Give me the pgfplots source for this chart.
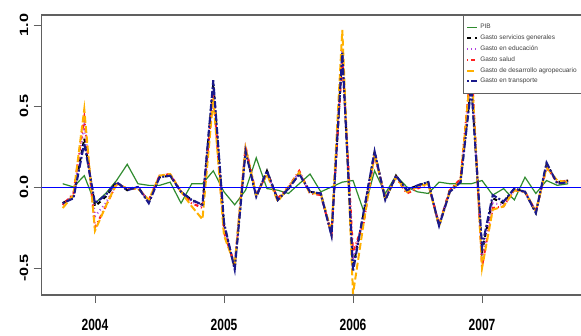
\documentclass[border=0pt]{standalone}
\usepackage{pgfplots}
\pgfplotsset{compat=1.18}
\usepackage{pgfplotstable}
\usepackage{fontspec}
\setmainfont{Liberation Sans}
\usepackage{graphicx}

\definecolor{pibgreen}{HTML}{2E8B2E}
\definecolor{trnavy}{HTML}{1A1A8C}
\definecolor{edupurple}{HTML}{B040E0}
\definecolor{salred}{HTML}{FF2020}
\definecolor{agroorange}{HTML}{FFB000}
\definecolor{axgray}{HTML}{606060}

\pgfplotstableread{
t        pib    serv   edu    salud  agro   trans
2003.750  0.02  -0.10  -0.11  -0.11  -0.13  -0.10
2003.833  0.00  -0.06  -0.05  -0.04  -0.05  -0.07
2003.917  0.07   0.30   0.38   0.43   0.48   0.27
2004.000 -0.10  -0.12  -0.18  -0.25  -0.27  -0.10
2004.083 -0.04  -0.06  -0.10  -0.12  -0.12  -0.05
2004.167  0.04   0.03   0.02   0.02   0.02   0.03
2004.250  0.14  -0.02  -0.01  -0.01  -0.01  -0.02
2004.333  0.02   0.00   0.00  -0.01  -0.01   0.00
2004.417  0.01  -0.09  -0.09  -0.08  -0.08  -0.10
2004.500  0.01   0.06   0.07   0.07   0.07   0.06
2004.583  0.03   0.07   0.08   0.08   0.08   0.07
2004.667 -0.10  -0.03  -0.03  -0.03  -0.03  -0.03
2004.750  0.02  -0.08  -0.09  -0.10  -0.12  -0.08
2004.833  0.02  -0.11  -0.12  -0.13  -0.20  -0.11
2004.917  0.10   0.64   0.60   0.58   0.55   0.66
2005.000 -0.03  -0.24  -0.25  -0.28  -0.30  -0.22
2005.083 -0.11  -0.50  -0.49  -0.48  -0.48  -0.51
2005.167 -0.02   0.23   0.24   0.25   0.24   0.22
2005.250  0.18  -0.06  -0.05  -0.05  -0.05  -0.06
2005.333 -0.01   0.10   0.09   0.08   0.08   0.10
2005.417 -0.02  -0.08  -0.08  -0.07  -0.09  -0.08
2005.500 -0.04  -0.01   0.00   0.00   0.00  -0.01
2005.583  0.02   0.08   0.09   0.10   0.09   0.08
2005.667  0.08  -0.03  -0.04  -0.04  -0.04  -0.03
2005.750 -0.03  -0.04  -0.04  -0.05  -0.04  -0.04
2005.833  0.00  -0.29  -0.29  -0.29  -0.28  -0.30
2005.917  0.03   0.82   0.85   0.80   0.97   0.83
2006.000  0.04  -0.50  -0.45  -0.40  -0.66  -0.52
2006.083 -0.15  -0.16  -0.18  -0.22  -0.22  -0.15
2006.167  0.10   0.22   0.21   0.20   0.20   0.22
2006.250 -0.04  -0.08  -0.07  -0.07  -0.07  -0.08
2006.333  0.07   0.07   0.07   0.06   0.06   0.07
2006.417  0.00  -0.02  -0.03  -0.04  -0.03  -0.02
2006.500 -0.03   0.01   0.00  -0.01   0.00   0.01
2006.583 -0.04   0.03   0.02   0.02   0.02   0.03
2006.667  0.03  -0.24  -0.23  -0.23  -0.24  -0.24
2006.750  0.02  -0.02  -0.03  -0.02  -0.03  -0.03
2006.833  0.02   0.03   0.04   0.05   0.04   0.03
2006.917  0.02   0.65   0.70   0.77   0.76   0.62
2007.000  0.04  -0.40  -0.45  -0.49  -0.50  -0.37
2007.083 -0.05  -0.07  -0.10  -0.13  -0.14  -0.05
2007.167 -0.01  -0.10  -0.11  -0.12  -0.12  -0.09
2007.250 -0.08  -0.01  -0.02  -0.02  -0.02  -0.01
2007.333  0.06  -0.03  -0.03  -0.03  -0.03  -0.03
2007.417 -0.04  -0.16  -0.15  -0.15  -0.15  -0.16
2007.500  0.04   0.14   0.13   0.12   0.12   0.15
2007.583  0.01   0.03   0.03   0.03   0.04   0.02
2007.667  0.02   0.04   0.04   0.04   0.03   0.03
}\datatable

\begin{document}
\begin{tikzpicture}
\begin{axis}[
  at={(0pt,0pt)}, anchor=south west,
  scale only axis, width=543.3pt, height=280pt,
  xmin=2003.587, xmax=2007.798, ymin=-0.667, ymax=1.062,
  xtick={2004,2005,2006,2007},
  xticklabels={\scalebox{1}[1.35]{2004},\scalebox{1}[1.35]{2005},\scalebox{1}[1.35]{2006},\scalebox{1}[1.35]{2007}},
  ytick={-0.5,0,0.5,1},
  yticklabels={\scalebox{1.35}[1]{-0.5},\scalebox{1.35}[1]{0.0},\scalebox{1.35}[1]{0.5},\scalebox{1.35}[1]{1.0}},
  xtick pos=bottom, ytick pos=left,
  tick align=outside, major tick length=8pt,
  tick style={draw=axgray, line width=0.8pt},
  axis line style={draw=axgray, line width=1.3pt},
  ticklabel style={font=\bfseries\fontsize{12}{12}\selectfont},
  xticklabel style={yshift=-13pt},
  yticklabel style={rotate=90, anchor=south, yshift=2pt},
  legend image code/.code={\draw[#1] (0pt,0pt) -- (10pt,0pt);},
  legend cell align=left,
  legend style={at={(rel axis cs:0.775,1)}, anchor=north west,
    draw=axgray, line width=0.8pt, fill=white,
    font=\fontsize{6.5}{7}\selectfont, text=black!75,
    inner xsep=3pt, inner ysep=7pt, row sep=0.6pt},
]
\addplot[pibgreen, line width=1.2pt] table[x=t, y=pib] {\datatable};
\addlegendentry{PIB}
\addplot[black, line width=2pt, dash pattern=on 4pt off 4pt] table[x=t, y=serv] {\datatable};
\addlegendentry{Gasto servicios generales}
\addplot[edupurple, line width=2pt, dash pattern=on 1pt off 3pt] table[x=t, y=edu] {\datatable};
\addlegendentry{Gasto en educación}
\addplot[salred, line width=2pt, dash pattern=on 1pt off 3pt on 4pt off 3pt] table[x=t, y=salud] {\datatable};
\addlegendentry{Gasto salud}
\addplot[agroorange, line width=2pt, dash pattern=on 7pt off 3pt] table[x=t, y=agro] {\datatable};
\addlegendentry{Gasto de desarrollo agropecuario}
\addplot[trnavy, line width=2.1pt, dash pattern=on 2pt off 2pt on 7pt off 2pt] table[x=t, y=trans] {\datatable};
\addlegendentry{Gasto en transporte}
\addplot[blue, line width=0.8pt, forget plot] coordinates {(2003.5,0) (2007.9,0)};
\end{axis}
\pgfresetboundingbox
\path (-41.7pt,-40pt) rectangle (539.3pt,295pt);
\end{tikzpicture}
\end{document}
